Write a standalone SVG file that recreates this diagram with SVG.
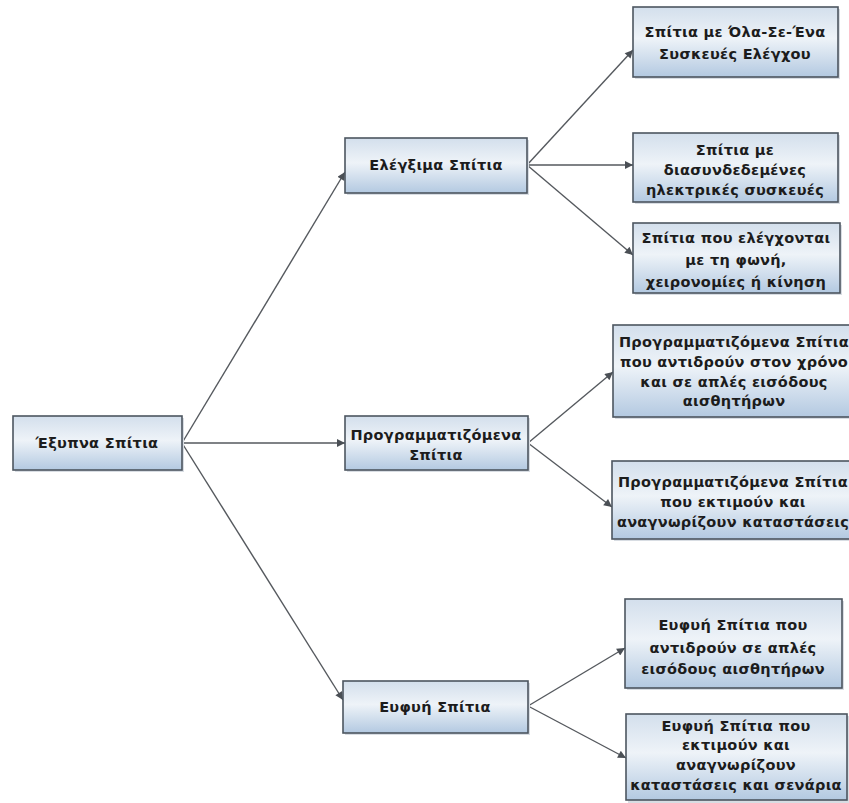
<svg xmlns="http://www.w3.org/2000/svg" width="849" height="803" viewBox="0 0 849 803">
  <defs>
    <linearGradient id="boxFill" x1="0" y1="0" x2="0" y2="1">
      <stop offset="0" stop-color="#d3dfec"/>
      <stop offset="0.45" stop-color="#eef3f8"/>
      <stop offset="1" stop-color="#b3c9e1"/>
    </linearGradient>
    <marker id="arrow" viewBox="0 0 10 10" refX="10" refY="5" markerWidth="11" markerHeight="8" markerUnits="userSpaceOnUse" orient="auto">
      <path d="M0,0 L10,5 L0,10 z" fill="#4a4f55"/>
    </marker>
    <style>
      .box { fill: url(#boxFill); stroke: #4d5660; stroke-width: 1.6; }
      .shadow { fill: #d8dde3; }
      .lbl { font-family: "DejaVu Sans", Verdana, sans-serif; font-weight: bold; font-size: 14.5px; letter-spacing: 0.3px; fill: #1c1c1c; text-anchor: middle; }
      .conn { stroke: #55595e; stroke-width: 1.4; fill: none; marker-end: url(#arrow); }
    </style>
  </defs>
  <rect width="849" height="803" fill="#ffffff"/>

  <g id="connectors">
    <path class="conn" d="M182,443 L345,172"/>
    <path class="conn" d="M182,443 L345,443"/>
    <path class="conn" d="M182,443 L343,700"/>
    <path class="conn" d="M527,165 L633,50"/>
    <path class="conn" d="M527,165 L633,165"/>
    <path class="conn" d="M527,165 L633,255"/>
    <path class="conn" d="M528,443 L613,372"/>
    <path class="conn" d="M528,443 L612,507"/>
    <path class="conn" d="M528,706 L625,648"/>
    <path class="conn" d="M528,706 L626,758"/>
  </g>

  <g id="root">
    <rect class="shadow" x="15" y="418" width="169" height="54"/>
    <rect class="box" x="13" y="416" width="169" height="54"/>
    <text class="lbl" x="97" y="448">Έξυπνα Σπίτια</text>
  </g>

  <g id="controllable">
    <rect class="shadow" x="347" y="140" width="182" height="55"/>
    <rect class="box" x="345" y="138" width="182" height="55"/>
    <text class="lbl" x="436" y="170">Ελέγξιμα Σπίτια</text>
  </g>

  <g id="programmable">
    <rect class="shadow" x="347" y="418" width="183" height="54"/>
    <rect class="box" x="345" y="416" width="183" height="54"/>
    <text class="lbl" x="436" y="440">Προγραμματιζόμενα</text>
    <text class="lbl" x="436" y="460">Σπίτια</text>
  </g>

  <g id="intelligent">
    <rect class="shadow" x="345" y="683" width="185" height="52"/>
    <rect class="box" x="343" y="681" width="185" height="52"/>
    <text class="lbl" x="435" y="712">Ευφυή Σπίτια</text>
  </g>

  <g id="all-in-one">
    <rect class="shadow" x="635" y="9" width="205" height="70"/>
    <rect class="box" x="633" y="7" width="205" height="70"/>
    <text class="lbl" x="735" y="37">Σπίτια με Όλα-Σε-Ένα</text>
    <text class="lbl" x="735" y="59">Συσκευές Ελέγχου</text>
  </g>

  <g id="interconnected">
    <rect class="shadow" x="635" y="135" width="205" height="69"/>
    <rect class="box" x="633" y="133" width="205" height="69"/>
    <text class="lbl" x="735" y="155">Σπίτια με</text>
    <text class="lbl" x="735" y="175">διασυνδεδεμένες</text>
    <text class="lbl" x="735" y="195">ηλεκτρικές συσκευές</text>
  </g>

  <g id="voice-gesture">
    <rect class="shadow" x="635" y="225" width="207" height="70"/>
    <rect class="box" x="633" y="223" width="207" height="70"/>
    <text class="lbl" x="736" y="243">Σπίτια που ελέγχονται</text>
    <text class="lbl" x="736" y="265">με τη φωνή,</text>
    <text class="lbl" x="736" y="287">χειρονομίες ή κίνηση</text>
  </g>

  <g id="time-sensor">
    <rect class="shadow" x="615" y="327" width="242" height="92"/>
    <rect class="box" x="613" y="325" width="242" height="92"/>
    <text class="lbl" x="734" y="347">Προγραμματιζόμενα Σπίτια</text>
    <text class="lbl" x="734" y="367">που αντιδρούν στον χρόνο</text>
    <text class="lbl" x="734" y="387">και σε απλές εισόδους</text>
    <text class="lbl" x="734" y="406">αισθητήρων</text>
  </g>

  <g id="state-aware">
    <rect class="shadow" x="614" y="463" width="242" height="78"/>
    <rect class="box" x="612" y="461" width="242" height="78"/>
    <text class="lbl" x="733" y="487">Προγραμματιζόμενα Σπίτια</text>
    <text class="lbl" x="733" y="507">που εκτιμούν και</text>
    <text class="lbl" x="733" y="527">αναγνωρίζουν καταστάσεις</text>
  </g>

  <g id="sensor-reactive">
    <rect class="shadow" x="627" y="601" width="217" height="89"/>
    <rect class="box" x="625" y="599" width="217" height="89"/>
    <text class="lbl" x="733" y="630">Ευφυή Σπίτια που</text>
    <text class="lbl" x="733" y="653">αντιδρούν σε απλές</text>
    <text class="lbl" x="733" y="674">εισόδους αισθητήρων</text>
  </g>

  <g id="scenario-aware">
    <rect class="shadow" x="628" y="716" width="221" height="87"/>
    <rect class="box" x="626" y="714" width="221" height="86"/>
    <text class="lbl" x="736" y="731">Ευφυή Σπίτια που</text>
    <text class="lbl" x="736" y="750">εκτιμούν και</text>
    <text class="lbl" x="736" y="770">αναγνωρίζουν</text>
    <text class="lbl" x="736" y="790">καταστάσεις και σενάρια</text>
  </g>
</svg>
